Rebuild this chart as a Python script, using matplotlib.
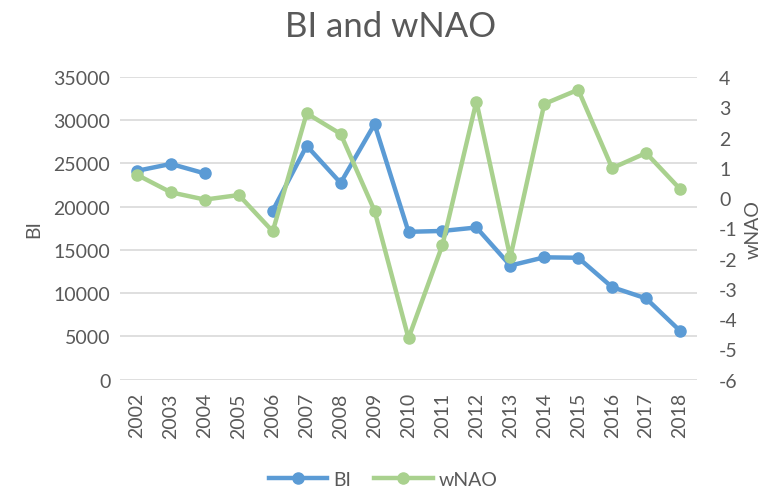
import numpy as np
import matplotlib.pyplot as plt

plt.rcParams['font.family'] = ['Lato', 'DejaVu Sans']
plt.rcParams['axes.unicode_minus'] = False

years = [str(y) for y in range(2002, 2019)]
bi = [24150, 24950, 23850, np.nan, 19550, 27050, 22750, 29550, 17100,
      17200, 17600, 13200, 14150, 14100, 10700, 9400, 5650]
wnao = [0.77, 0.19, -0.05, 0.10, -1.10, 2.80, 2.12, -0.42, -4.63,
        -1.55, 3.19, -1.96, 3.11, 3.58, 0.99, 1.49, 0.30]

blue = '#5B9BD5'
green = '#A9D18E'
txt = '#595959'

fig = plt.figure(figsize=(7.66, 4.89), dpi=100)
ax = fig.add_axes([120/766, 1-380.7/489, 577/766, 302.7/489])
ax2 = ax.twinx()

x = np.arange(len(years))
l1, = ax.plot(x, bi, color=blue, lw=3.2, marker='o', ms=8, label='BI', zorder=3)
l2, = ax2.plot(x, wnao, color=green, lw=3.2, marker='o', ms=8, label='wNAO', zorder=3)

ax.set_xlim(-0.5, len(years) - 0.5)
ax.set_ylim(0, 35000)
ax.set_yticks(range(0, 35001, 5000))
ax2.set_ylim(-6, 4)
ax2.set_yticks(range(-6, 5))

ax.set_xticks(x)
ax.set_xticklabels(years, rotation=90)
ax.grid(axis='y', color='#D9D9D9', lw=1.2)
ax.set_axisbelow(True)

for a in (ax, ax2):
    for s in a.spines.values():
        s.set_visible(False)
    a.tick_params(length=0, labelsize=14, colors=txt)
ax.tick_params(axis='y', pad=7)
ax.tick_params(axis='x', pad=9)
ax2.tick_params(axis='y', pad=16)

ax.set_ylabel('BI', fontsize=14, color=txt, labelpad=8)
ax2.set_ylabel('wNAO', fontsize=14, color=txt, labelpad=5)

fig.text(0.51, 0.945, 'BI and wNAO', ha='center', va='center', fontsize=25, color=txt)
fig.legend(handles=[l1, l2], loc='center', bbox_to_anchor=(0.5, 0.018), ncol=2,
           frameon=False, fontsize=14, labelcolor=txt, handlelength=3.0,
           columnspacing=1.2, handletextpad=0.3)

fig.savefig('out.png', dpi=100)
